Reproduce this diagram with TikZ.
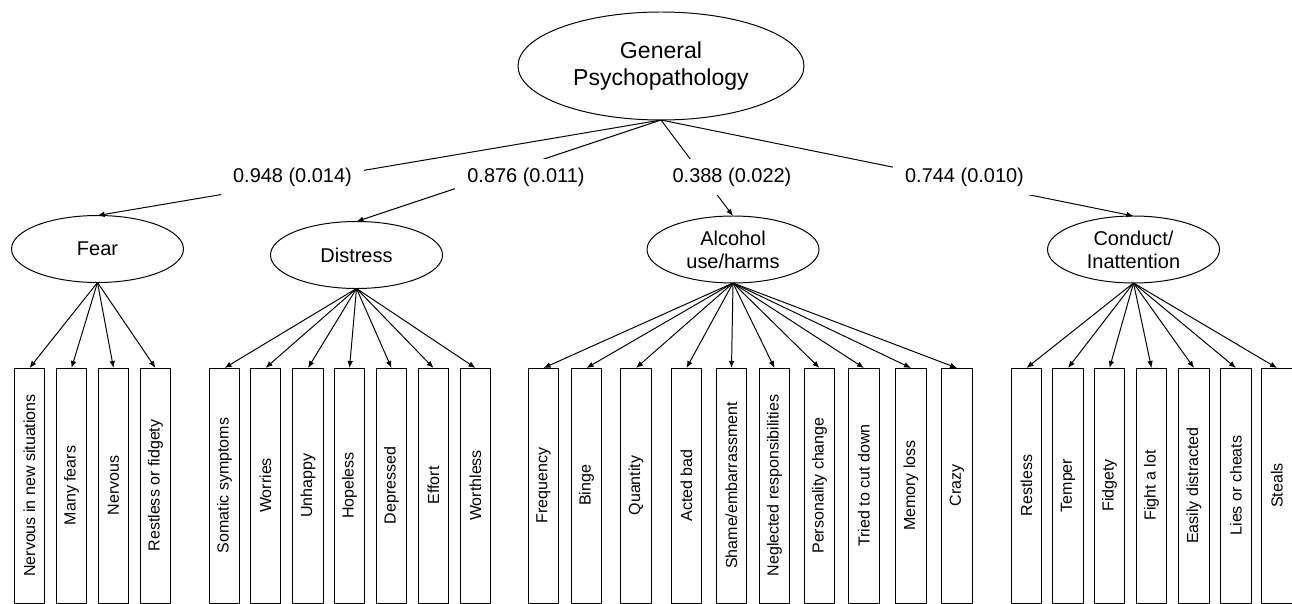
\documentclass[tikz,border=0pt]{standalone}
\usepackage{fontspec}
\setmainfont{Liberation Sans}
\usepackage{graphicx}
\usepackage{tikz}
\usetikzlibrary{shapes.geometric,arrows.meta}
\tikzset{
  latent/.style={draw,ellipse,line width=0.7pt,inner sep=0pt,outer sep=0pt,
    minimum width=4.3cm,minimum height=1.675cm,align=center,
    font=\fontsize{14.2}{16.4}\selectfont},
  indicator/.style={draw,rectangle,line width=0.7pt,inner sep=0pt,outer sep=0pt,
    minimum width=0.7625cm,minimum height=5.875cm,font=\fontsize{11.4}{13}\selectfont}
}

\begin{document}
\begin{tikzpicture}[
  arrow/.style={-{Latex[length=5pt,width=4pt]},line width=0.7pt},
  loading/.style={fill=white,inner xsep=0.3cm,inner ysep=0pt,minimum height=0.88cm,
    font=\fontsize{14.2}{16.4}\selectfont}
]
  \useasboundingbox (0,0) rectangle (32.3,-15.1);
  \node[latent,minimum width=7.15cm,minimum height=2.7cm,font=\fontsize{16.4}{19.2}\selectfont] (gen) at (16.525,-1.65) {General\\Psychopathology};
  \node[latent] (fear) at (2.4375,-6.225) {Fear};
  \node[latent] (dist) at (8.9125,-6.375) {Distress};
  \node[latent] (alc)  at (18.325,-6.2375) {Alcohol\\use/harms};
  \node[latent] (cond) at (28.3375,-6.2375) {Conduct/\\Inattention};
  \draw[arrow] (gen.south) -- (fear.north);
  \draw[arrow] (gen.south) -- (dist.north);
  \draw[arrow] (gen.south) -- (alc.north);
  \draw[arrow] (gen.south) -- (cond.north);
  \node[loading] (lfear) at (7.3125,-4.425) {0.948 (0.014)};
  \node[loading] (ldist) at (13.15,-4.425) {0.876 (0.011)};
  \node[loading] (lalc)  at (18.3,-4.425) {0.388 (0.022)};
  \node[loading] (lcond) at (24.1125,-4.425) {0.744 (0.010)};
  % fear items
  \node[indicator] (f1) at (0.7375,-12.1375) {\rotatebox{90}{Nervous in new situations}};
  \node[indicator] (f2) at (1.7875,-12.1375) {\rotatebox{90}{Many fears}};
  \node[indicator] (f3) at (2.8375,-12.1375) {\rotatebox{90}{Nervous}};
  \node[indicator] (f4) at (3.8875,-12.1375) {\rotatebox{90}{Restless or fidgety}};
  \draw[arrow] (fear.south) -- (f1.north);
  \draw[arrow] (fear.south) -- (f2.north);
  \draw[arrow] (fear.south) -- (f3.north);
  \draw[arrow] (fear.south) -- (f4.north);
  % distress items
  \node[indicator] (d1) at (5.6125,-12.1375) {\rotatebox{90}{Somatic symptoms}};
  \node[indicator] (d2) at (6.6375,-12.1375) {\rotatebox{90}{Worries}};
  \node[indicator] (d3) at (7.7,-12.1375) {\rotatebox{90}{Unhappy}};
  \node[indicator] (d4) at (8.7375,-12.1375) {\rotatebox{90}{Hopeless}};
  \node[indicator] (d5) at (9.7875,-12.1375) {\rotatebox{90}{Depressed}};
  \node[indicator] (d6) at (10.8375,-12.1375) {\rotatebox{90}{Effort}};
  \node[indicator] (d7) at (11.8875,-12.1375) {\rotatebox{90}{Worthless}};
  \draw[arrow] (dist.south) -- (d1.north);
  \draw[arrow] (dist.south) -- (d2.north);
  \draw[arrow] (dist.south) -- (d3.north);
  \draw[arrow] (dist.south) -- (d4.north);
  \draw[arrow] (dist.south) -- (d5.north);
  \draw[arrow] (dist.south) -- (d6.north);
  \draw[arrow] (dist.south) -- (d7.north);
  % alcohol items
  \node[indicator] (a1)  at (13.5875,-12.1375) {\rotatebox{90}{Frequency}};
  \node[indicator] (a2)  at (14.6625,-12.1375) {\rotatebox{90}{Binge}};
  \node[indicator] (a3)  at (15.9,-12.1375) {\rotatebox{90}{Quantity}};
  \node[indicator] (a4)  at (17.1625,-12.1375) {\rotatebox{90}{Acted bad}};
  \node[indicator] (a5)  at (18.2875,-12.1375) {\rotatebox{90}{Shame/embarrassment}};
  \node[indicator] (a6)  at (19.3625,-12.1375) {\rotatebox{90}{Neglected responsibilities}};
  \node[indicator] (a7)  at (20.4875,-12.1375) {\rotatebox{90}{Personality change}};
  \node[indicator] (a8)  at (21.6,-12.1375) {\rotatebox{90}{Tried to cut down}};
  \node[indicator] (a9)  at (22.775,-12.1375) {\rotatebox{90}{Memory loss}};
  \node[indicator] (a10) at (23.925,-12.1375) {\rotatebox{90}{Crazy}};
  \draw[arrow] (alc.south) -- (a1.north);
  \draw[arrow] (alc.south) -- (a2.north);
  \draw[arrow] (alc.south) -- (a3.north);
  \draw[arrow] (alc.south) -- (a4.north);
  \draw[arrow] (alc.south) -- (a5.north);
  \draw[arrow] (alc.south) -- (a6.north);
  \draw[arrow] (alc.south) -- (a7.north);
  \draw[arrow] (alc.south) -- (a8.north);
  \draw[arrow] (alc.south) -- (a9.north);
  \draw[arrow] (alc.south) -- (a10.north);
  % conduct items
  \node[indicator] (c1) at (25.6625,-12.1375) {\rotatebox{90}{Restless}};
  \node[indicator] (c2) at (26.7,-12.1375) {\rotatebox{90}{Temper}};
  \node[indicator] (c3) at (27.7375,-12.1375) {\rotatebox{90}{Fidgety}};
  \node[indicator] (c4) at (28.7875,-12.1375) {\rotatebox{90}{Fight a lot}};
  \node[indicator] (c5) at (29.85,-12.1375) {\rotatebox{90}{Easily distracted}};
  \node[indicator] (c6) at (30.9,-12.1375) {\rotatebox{90}{Lies or cheats}};
  \node[indicator] (c7) at (31.925,-12.1375) {\rotatebox{90}{Steals}};
  \draw[arrow] (cond.south) -- (c1.north);
  \draw[arrow] (cond.south) -- (c2.north);
  \draw[arrow] (cond.south) -- (c3.north);
  \draw[arrow] (cond.south) -- (c4.north);
  \draw[arrow] (cond.south) -- (c5.north);
  \draw[arrow] (cond.south) -- (c6.north);
  \draw[arrow] (cond.south) -- (c7.north);
\end{tikzpicture}
\end{document}
